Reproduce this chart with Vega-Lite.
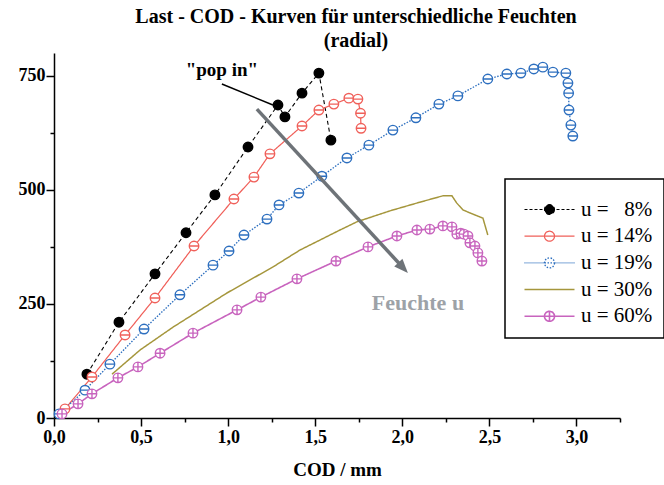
{
  "$schema": "https://vega.github.io/schema/vega-lite/v6.json",
  "width": 566,
  "height": 365,
  "autosize": "none",
  "padding": {"left": 54, "top": 53, "right": 44, "bottom": 67},
  "background": "white",
  "config": {
    "view": {"stroke": null},
    "font": "Liberation Serif",
    "axis": {"domainColor": "black", "domainWidth": 1.5, "tickColor": "black", "tickWidth": 1.5, "grid": false, "labelFlush": false, "labelFont": "Liberation Serif", "labelFontWeight": "bold", "labelFontSize": 18, "labelColor": "black", "titleFont": "Liberation Serif", "titleFontWeight": "bold", "titleColor": "black"}
  },
  "title": {
    "text": ["Last - COD - Kurven für unterschiedliche Feuchten", "(radial)"],
    "font": "Liberation Serif",
    "fontSize": 20,
    "fontWeight": "bold",
    "color": "black",
    "lineHeight": 24,
    "dx": 19,
    "offset": 2
  },
  "encoding": {
    "x": {
      "field": "x", "type": "quantitative",
      "scale": {"domain": [0, 3.25], "nice": false, "zero": false},
      "axis": {
        "title": "COD / mm", "titleFontSize": 19, "titlePadding": 14,
        "values": [0, 0.25, 0.5, 0.75, 1, 1.25, 1.5, 1.75, 2, 2.25, 2.5, 2.75, 3, 3.25],
        "labelExpr": "datum.value % 0.5 === 0 ? replace(format(datum.value, '.1f'), '.', ',') : ''",
        "labelOverlap": false, "labelPadding": 2,
        "tickSize": {"condition": {"test": "datum.value % 0.5 === 0", "value": 8}, "value": 4}
      }
    },
    "y": {
      "field": "y", "type": "quantitative",
      "scale": {"domain": [0, 800], "nice": false, "zero": false},
      "axis": {
        "title": null,
        "values": [0, 125, 250, 375, 500, 625, 750],
        "labelExpr": "datum.value % 250 === 0 ? datum.label : ''",
        "labelOverlap": false, "labelPadding": 1,
        "tickSize": {"condition": {"test": "datum.value % 250 === 0", "value": 8}, "value": 4}
      }
    }
  },
  "layer": [
    {
      "data": {"name": "curves"},
      "mark": {"type": "line"},
      "encoding": {
        "color": {
          "field": "u", "type": "nominal",
          "scale": {"domain": ["8%", "14%", "19%", "30%", "60%"], "range": ["#000000", "#f0605a", "#2d6fbf", "#a5963c", "#c864be"]},
          "legend": {
            "orient": "none", "legendX": 451, "legendY": 126,
            "title": " ", "titleFontSize": 5, "titlePadding": 4,
            "strokeColor": "black", "fillColor": "white",
            "padding": 11, "rowPadding": 4.7,
            "symbolSize": 100, "symbolOffset": 23, "labelOffset": 21,
            "labelFont": "Liberation Serif", "labelFontSize": 21, "labelColor": "black", "labelLimit": 200,
            "labelExpr": "datum.value === '8%' ? 'u = \u20078%' : 'u = ' + datum.value",
            "encode": {
              "legend": {"update": {"strokeWidth": {"value": 1.5}}},
              "symbols": {
                "update": {
                  "shape": {"signal": "datum.value === '8%' ? 'M-5,0L-4.4,0M-4,0L-3.4,0M-3,0L-2.4,0M-2,0L-1.4,0M1.4,0L2,0M2.4,0L3,0M3.4,0L4,0M4.4,0L5,0M1,0A1,1 0 1,1 -1,0A1,1 0 1,1 1,0Z' : datum.value === '14%' ? 'M-5,0L5,0M1,0A1,1 0 1,1 -1,0A1,1 0 1,1 1,0Z' : datum.value === '19%' ? 'M-5,0L-4.8,0M-4.6,0L-4.4,0M-4.2,0L-4,0M-3.8,0L-3.6,0M-3.4,0L-3.2,0M-3,0L-2.8,0M-2.6,0L-2.4,0M-2.2,0L-2,0M-1.8,0L-1.6,0M-1.4,0L-1.2,0M1.2,0L1.4,0M1.6,0L1.8,0M2,0L2.2,0M2.4,0L2.6,0M2.8,0L3,0M3.2,0L3.4,0M3.6,0L3.8,0M4,0L4.2,0M4.4,0L4.6,0M4.8,0L5,0M-1,0L1,0M1,0A1,1 0 1,1 -1,0A1,1 0 1,1 1,0Z' : datum.value === '30%' ? 'M-5,0L5,0' : 'M-5,0L5,0M0,-1L0,1M1,0A1,1 0 1,1 -1,0A1,1 0 1,1 1,0Z'"},
                  "fill": {"signal": "datum.value === '8%' ? 'black' : 'white'"},
                  "strokeWidth": {"signal": "datum.value === '8%' ? 1.1 : datum.value === '30%' ? 2.5 : 1.6"},
                  "strokeDash": {"value": [1, 0]},
                  "opacity": {"value": 1}
                }
              }
            }
          }
        },
        "strokeDash": {
          "field": "u", "type": "nominal",
          "scale": {"domain": ["8%", "14%", "19%", "30%", "60%"], "range": [[4, 3], [1, 0], [1.5, 1.5], [1, 0], [1, 0]]},
          "legend": null
        },
        "strokeWidth": {
          "field": "u", "type": "ordinal",
          "scale": {"domain": ["8%", "14%", "19%", "30%", "60%"], "range": [1.1, 1.6, 1.7, 2.1, 1.4]},
          "legend": null
        }
      }
    },
    {
      "data": {"name": "curves"},
      "transform": [{"filter": "datum.u !== '30%'"}],
      "mark": {"type": "point", "strokeWidth": 1.4, "opacity": 1, "size": 90},
      "encoding": {
        "color": {"field": "u", "type": "nominal", "legend": null},
        "shape": {
          "field": "u", "type": "nominal",
          "scale": {"domain": ["8%", "14%", "19%", "60%"], "range": ["circle", "M1,0A1,1 0 1,1 -1,0A1,1 0 1,1 1,0ZM-1,0L1,0", "M1,0A1,1 0 1,1 -1,0A1,1 0 1,1 1,0ZM-1,0L1,0", "M1,0A1,1 0 1,1 -1,0A1,1 0 1,1 1,0ZM-1,0L1,0M0,-1L0,1"]},
          "legend": null
        },
        "fill": {
          "field": "u", "type": "nominal",
          "scale": {"domain": ["8%", "14%", "19%", "60%"], "range": ["black", "white", "white", "white"]},
          "legend": null
        }
      }
    },
    {
      "data": {"values": [{"x": 0.964, "y": 732}, {"x": 1.257, "y": 686}]},
      "mark": {"type": "line", "color": "black", "strokeWidth": 1.5},
      "encoding": {}
    },
    {
      "data": {"values": [{"x": 1.165, "y": 677}, {"x": 1.986, "y": 337}]},
      "mark": {"type": "line", "color": "#6e7378", "strokeWidth": 3.5, "strokeCap": "butt"},
      "encoding": {}
    },
    {
      "data": {"values": [{"x": 2.032, "y": 318}]},
      "mark": {"type": "point", "shape": "M0,0L-0.8,2L0.8,2Z", "size": 196, "angle": 137, "filled": true, "color": "#6e7378", "opacity": 1, "strokeWidth": 0}
    },
    {
      "data": {"values": [{"x": 0.964, "y": 763, "t": "\"pop in\""}]},
      "mark": {"type": "text", "font": "Liberation Serif", "fontWeight": "bold", "fontSize": 19, "color": "black"},
      "encoding": {"text": {"field": "t"}}
    },
    {
      "data": {"values": [{"x": 2.09, "y": 252, "t": "Feuchte u"}]},
      "mark": {"type": "text", "font": "Liberation Serif", "fontWeight": "bold", "fontSize": 22, "color": "#9da2a7"},
      "encoding": {"text": {"field": "t"}}
    }
  ],
  "datasets": {
    "curves": [
      {"u": "8%", "x": 0.189, "y": 96},
      {"u": "8%", "x": 0.373, "y": 210},
      {"u": "8%", "x": 0.580, "y": 316},
      {"u": "8%", "x": 0.758, "y": 406},
      {"u": "8%", "x": 0.924, "y": 489},
      {"u": "8%", "x": 1.114, "y": 594},
      {"u": "8%", "x": 1.286, "y": 686},
      {"u": "8%", "x": 1.326, "y": 660},
      {"u": "8%", "x": 1.424, "y": 712},
      {"u": "8%", "x": 1.521, "y": 756},
      {"u": "8%", "x": 1.590, "y": 609},
      {"u": "14%", "x": 0.063, "y": 20},
      {"u": "14%", "x": 0.218, "y": 90},
      {"u": "14%", "x": 0.408, "y": 182},
      {"u": "14%", "x": 0.580, "y": 263},
      {"u": "14%", "x": 0.804, "y": 377},
      {"u": "14%", "x": 1.033, "y": 480},
      {"u": "14%", "x": 1.148, "y": 528},
      {"u": "14%", "x": 1.240, "y": 579},
      {"u": "14%", "x": 1.424, "y": 640},
      {"u": "14%", "x": 1.521, "y": 675},
      {"u": "14%", "x": 1.607, "y": 688},
      {"u": "14%", "x": 1.693, "y": 701},
      {"u": "14%", "x": 1.745, "y": 699},
      {"u": "14%", "x": 1.760, "y": 668},
      {"u": "14%", "x": 1.763, "y": 635},
      {"u": "19%", "x": 0.029, "y": 9},
      {"u": "19%", "x": 0.178, "y": 61},
      {"u": "19%", "x": 0.321, "y": 118},
      {"u": "19%", "x": 0.517, "y": 195},
      {"u": "19%", "x": 0.723, "y": 270},
      {"u": "19%", "x": 0.913, "y": 335},
      {"u": "19%", "x": 1.005, "y": 366},
      {"u": "19%", "x": 1.091, "y": 401},
      {"u": "19%", "x": 1.223, "y": 436},
      {"u": "19%", "x": 1.292, "y": 467},
      {"u": "19%", "x": 1.406, "y": 493},
      {"u": "19%", "x": 1.538, "y": 530},
      {"u": "19%", "x": 1.682, "y": 570},
      {"u": "19%", "x": 1.808, "y": 598},
      {"u": "19%", "x": 1.946, "y": 631},
      {"u": "19%", "x": 2.078, "y": 658},
      {"u": "19%", "x": 2.210, "y": 688},
      {"u": "19%", "x": 2.319, "y": 706},
      {"u": "19%", "x": 2.491, "y": 743},
      {"u": "19%", "x": 2.600, "y": 754},
      {"u": "19%", "x": 2.681, "y": 756},
      {"u": "19%", "x": 2.755, "y": 765},
      {"u": "19%", "x": 2.807, "y": 769},
      {"u": "19%", "x": 2.865, "y": 758},
      {"u": "19%", "x": 2.939, "y": 756},
      {"u": "19%", "x": 2.951, "y": 734},
      {"u": "19%", "x": 2.955, "y": 712},
      {"u": "19%", "x": 2.957, "y": 675},
      {"u": "19%", "x": 2.968, "y": 642},
      {"u": "19%", "x": 2.979, "y": 618},
      {"u": "30%", "x": 0.333, "y": 96},
      {"u": "30%", "x": 0.494, "y": 149},
      {"u": "30%", "x": 0.683, "y": 199},
      {"u": "30%", "x": 0.993, "y": 274},
      {"u": "30%", "x": 1.257, "y": 331},
      {"u": "30%", "x": 1.412, "y": 368},
      {"u": "30%", "x": 1.642, "y": 412},
      {"u": "30%", "x": 1.739, "y": 430},
      {"u": "30%", "x": 1.929, "y": 454},
      {"u": "30%", "x": 2.101, "y": 473},
      {"u": "30%", "x": 2.233, "y": 487},
      {"u": "30%", "x": 2.285, "y": 487},
      {"u": "30%", "x": 2.313, "y": 471},
      {"u": "30%", "x": 2.348, "y": 456},
      {"u": "30%", "x": 2.417, "y": 445},
      {"u": "30%", "x": 2.463, "y": 438},
      {"u": "30%", "x": 2.491, "y": 401},
      {"u": "60%", "x": 0.046, "y": 9},
      {"u": "60%", "x": 0.138, "y": 31},
      {"u": "60%", "x": 0.218, "y": 53},
      {"u": "60%", "x": 0.367, "y": 88},
      {"u": "60%", "x": 0.482, "y": 112},
      {"u": "60%", "x": 0.609, "y": 142},
      {"u": "60%", "x": 0.798, "y": 186},
      {"u": "60%", "x": 1.051, "y": 237},
      {"u": "60%", "x": 1.188, "y": 265},
      {"u": "60%", "x": 1.395, "y": 305},
      {"u": "60%", "x": 1.619, "y": 344},
      {"u": "60%", "x": 1.803, "y": 375},
      {"u": "60%", "x": 1.969, "y": 399},
      {"u": "60%", "x": 2.084, "y": 412},
      {"u": "60%", "x": 2.158, "y": 414},
      {"u": "60%", "x": 2.233, "y": 421},
      {"u": "60%", "x": 2.285, "y": 419},
      {"u": "60%", "x": 2.313, "y": 403},
      {"u": "60%", "x": 2.336, "y": 405},
      {"u": "60%", "x": 2.354, "y": 403},
      {"u": "60%", "x": 2.377, "y": 399},
      {"u": "60%", "x": 2.388, "y": 384},
      {"u": "60%", "x": 2.417, "y": 377},
      {"u": "60%", "x": 2.434, "y": 362},
      {"u": "60%", "x": 2.457, "y": 344}
    ]
  }
}
